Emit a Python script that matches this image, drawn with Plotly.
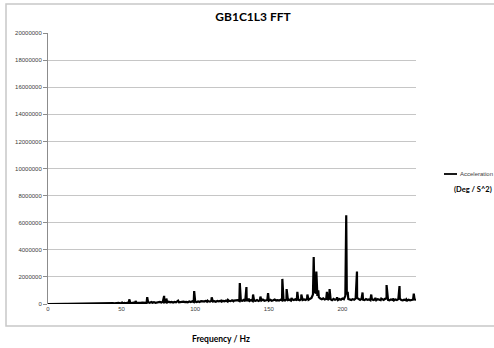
import plotly.graph_objects as go

# Baseline spectrum amplitude, 1 Hz steps from 0 to 250 Hz
base_freq = list(range(0, 251))
base_amp = [
    0, 5000, 8000, 6000, 9000, 7000, 8000, 10000, 9000, 11000,
    10000, 12000, 9000, 11000, 13000, 10000, 12000, 14000, 11000, 13000,
    12000, 15000, 13000, 16000, 14000, 17000, 15000, 18000, 60000, 20000,
    40000, 25000, 50000, 30000, 45000, 28000, 55000, 35000, 60000, 30000,
    50000, 38000, 65000, 40000, 70000, 42000, 60000, 48000, 75000, 50000,
    80000, 55000, 90000, 60000, 95000, 70000, 85000, 65000, 100000, 70000,
    90000, 75000, 110000, 80000, 100000, 85000, 120000, 90000, 130000, 95000,
    110000, 100000, 140000, 90000, 120000, 105000, 150000, 110000, 160000, 120000,
    140000, 115000, 170000, 120000, 150000, 110000, 160000, 125000, 180000, 130000,
    150000, 120000, 170000, 135000, 160000, 125000, 180000, 140000, 200000, 150000,
    170000, 140000, 190000, 150000, 210000, 160000, 180000, 230000, 170000, 200000,
    180000, 240000, 190000, 210000, 170000, 220000, 200000, 250000, 180000, 230000,
    200000, 260000, 190000, 240000, 210000, 270000, 200000, 250000, 230000, 280000,
    220000, 260000, 240000, 300000, 210000, 270000, 250000, 230000, 290000, 220000,
    260000, 240000, 300000, 230000, 280000, 250000, 320000, 240000, 270000, 300000,
    250000, 310000, 240000, 280000, 330000, 260000, 290000, 250000, 320000, 270000,
    300000, 260000, 340000, 280000, 310000, 250000, 330000, 290000, 350000, 270000,
    320000, 280000, 360000, 300000, 340000, 290000, 380000, 310000, 400000, 450000,
    700000, 900000, 800000, 600000, 500000, 400000, 350000, 420000, 330000, 380000,
    300000, 420000, 350000, 280000, 380000, 310000, 350000, 290000, 370000, 320000,
    400000, 350000, 600000, 700000, 380000, 330000, 300000, 360000, 310000, 400000,
    450000, 350000, 300000, 380000, 320000, 290000, 360000, 310000, 340000, 280000,
    370000, 300000, 330000, 280000, 360000, 310000, 290000, 350000, 300000, 380000,
    420000, 310000, 280000, 340000, 300000, 260000, 330000, 290000, 360000, 400000,
    300000, 270000, 320000, 280000, 250000, 310000, 270000, 300000, 330000, 350000,
    300000,
]

# Spectral peaks (Hz, amplitude)
peak_freq = [50.0, 55.2, 59.5, 67.4, 70.3, 78.9, 80.4, 88.4, 99.3, 105.4,
             108.4, 111.2, 117.8, 122.3, 126.4, 130.3, 134.8, 136.4, 139.3, 144.3,
             149.5, 159.2, 162.1, 165.4, 169.4, 172.1, 176.2, 180.5, 182.3, 183.6,
             189.5, 191.3, 196.4, 202.6, 203.6, 209.9, 213.7, 219.6, 222.4, 226.4,
             230.0, 234.4, 238.8, 243.4, 248.5]
peak_amp = [150000, 350000, 220000, 500000, 150000, 600000, 400000, 250000, 950000, 200000,
            250000, 500000, 250000, 300000, 250000, 1550000, 1250000, 400000, 700000, 550000,
            800000, 1850000, 1100000, 450000, 900000, 700000, 700000, 3470000, 2400000, 1000000,
            900000, 1100000, 500000, 6540000, 900000, 2400000, 850000, 700000, 450000, 400000,
            1400000, 400000, 1330000, 350000, 770000]

x_ticks = [0, 50, 100, 150, 200]
y_ticks = [0, 2000000, 4000000, 6000000, 8000000, 10000000, 12000000,
           14000000, 16000000, 18000000, 20000000]

pts = sorted(list(zip(base_freq, base_amp)) + list(zip(peak_freq, peak_amp)))
freq = [p[0] for p in pts]
amp = [p[1] for p in pts]

fig = go.Figure()
fig.add_trace(go.Scatter(x=freq, y=amp, mode="lines", name="Acceleration",
                         line=dict(color="black", width=2.2), showlegend=False))

tick_font = dict(family="Liberation Sans, Arial, sans-serif", size=6, color="#404040")
fig.update_layout(
    width=494, height=348,
    margin=dict(l=48, r=78, t=33, b=44),
    paper_bgcolor="white", plot_bgcolor="white",
    title=dict(text="<b>GB1C1L3 FFT</b>", x=253 / 494, xanchor="center",
               y=1 - 17 / 348, yanchor="middle",
               font=dict(family="Lato, Open Sans, sans-serif", size=12, color="black")),
    xaxis=dict(range=[0, 250], tickvals=x_ticks, ticktext=[str(v) for v in x_ticks],
               showgrid=False, zeroline=False, showline=False,
               ticks="", ticklen=0, tickfont=tick_font),
    yaxis=dict(range=[0, 20000000], tickvals=y_ticks, ticktext=[str(v) for v in y_ticks],
               showgrid=True, gridcolor="#c6c6c6", gridwidth=1, zeroline=False,
               showline=True, linecolor="#8c8c8c", linewidth=1,
               ticks="outside", ticklen=4, tickcolor="#8c8c8c", tickfont=tick_font),
    showlegend=False,
)

# chart border
fig.add_shape(type="rect", xref="paper", yref="paper",
              x0=(6 - 48) / 368, x1=(500 - 48) / 368,
              y0=(304 - 326) / 271, y1=(304 - 4) / 271,
              line=dict(color="#c8c8c8", width=1.5), fillcolor="rgba(0,0,0,0)", layer="below")

# legend sample
fig.add_shape(type="line", xref="paper", yref="paper",
              x0=(444 - 48) / 368, x1=(457 - 48) / 368,
              y0=(304 - 174) / 271, y1=(304 - 174) / 271,
              line=dict(color="black", width=1.8))
fig.add_annotation(text="Acceleration", xref="paper", yref="paper",
                   x=(458 - 48) / 368, y=(304 - 174) / 271, xanchor="left", yanchor="middle",
                   showarrow=False,
                   font=dict(family="Liberation Sans, Arial, sans-serif", size=6, color="#404040"))
fig.add_annotation(text="<b>(Deg / S^2)</b>", xref="paper", yref="paper",
                   x=(473 - 48) / 368, y=(304 - 189) / 271, xanchor="center", yanchor="middle",
                   showarrow=False,
                   font=dict(family="Lato, Open Sans, sans-serif", size=7.5, color="black"))
fig.add_annotation(text="<b>Frequency / Hz</b>", xref="paper", yref="paper",
                   x=(221 - 48) / 368, y=(304 - 339) / 271, xanchor="center", yanchor="middle",
                   showarrow=False,
                   font=dict(family="Lato, Open Sans, sans-serif", size=8.5, color="black"))

fig.write_html("out.html", config={"displayModeBar": False},
               post_script="document.body.style.margin='0';document.body.style.overflow='hidden';")
